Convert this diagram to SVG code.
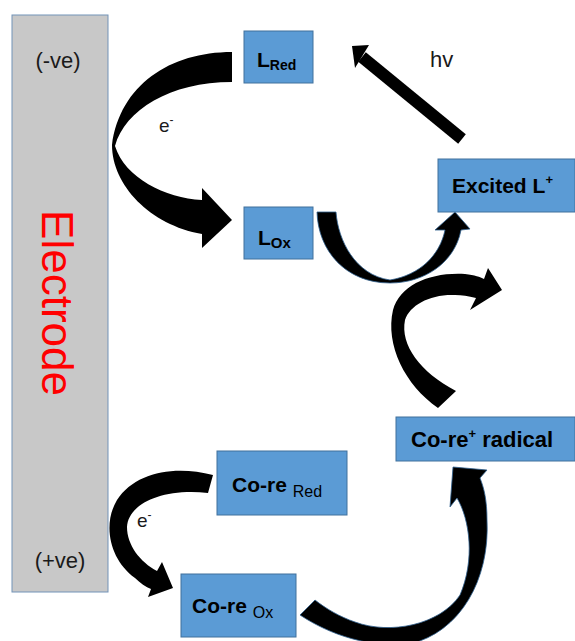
<svg xmlns="http://www.w3.org/2000/svg" width="575" height="641" viewBox="0 0 575 641">
<style>
.box{fill:#5b9bd5;stroke:#41719c;stroke-width:1}
.lbl{font-family:"Liberation Sans",Arial,sans-serif;font-weight:bold;fill:#000}
.sub{font-family:"Liberation Sans",Arial,sans-serif;fill:#000}
.plain{font-family:"Liberation Sans",Arial,sans-serif;fill:#1a1a1a}
.arr{fill:#000}
.arrb{fill:#000;stroke:#2e5f8e;stroke-width:0.8}
</style>
<rect width="575" height="641" fill="#fff"/>
<g id="electrode">
<rect x="12" y="15" width="96" height="577" fill="#c8c8c8" stroke="#7393b8" stroke-width="1"/>
<text class="plain" x="58" y="68" font-size="22" text-anchor="middle">(-ve)</text>
<text class="plain" x="60" y="568" font-size="22" text-anchor="middle">(+ve)</text>
<text transform="translate(42,303) rotate(90)" font-family="'Liberation Sans',Arial,sans-serif" font-size="44" fill="#ff0000" text-anchor="middle">Electrode</text>
</g>
<g id="connectors">
<path class="arr" d="M232,52 C170,52 120,85 112,145 C112,185 150,225 202,234 L202,248 L232,220 L202,188 L202,200 C165,198 125,178 115,146 C125,110 170,82 232,82 Z"/>
<path class="arrb" d="M317,212 L336,212 C338,240 355,275 390,280 C420,275 440,255 445,230 L435,230 L455,212 L470,229 L461,230 C455,262 425,283 390,283 C345,283 318,250 317,212 Z"/>
<path class="arr" d="M438,408 C405,385 385,345 393,310 C400,285 430,272 465,274 C475,275 480,277 484,279 L488,268 L502,290 L470,310 L476,298 C468,296 462,295 455,295 C430,294 410,305 405,320 C400,345 420,372 456,391 Z"/>
<path class="arr" d="M213,475 C175,465 135,472 117,500 C102,525 110,560 135,578 C140,583 146,587 151,589 L148,597 L173,588 L162,562 L157,571 C140,562 127,545 127,527 C128,505 160,488 208,493 Z"/>
<path class="arrb" d="M300,615 C330,635 370,648 410,644 C460,632 490,580 487,520 C487,500 484,488 480,478 L487,470 L453,467 L450,507 L457,498 C470,520 475,560 460,595 C440,625 390,635 355,622 C340,617 325,608 315,600 Z"/>
<line x1="462" y1="139" x2="362" y2="57" stroke="#000" stroke-width="12"/>
<polygon class="arr" points="352,46 369,45 355,68"/>
<text class="plain" x="159" y="132" font-size="19">e<tspan dy="-8" font-size="12">-</tspan></text>
<text class="plain" x="137" y="527" font-size="19">e<tspan dy="-8" font-size="12">-</tspan></text>
<text class="plain" x="430" y="67" font-size="22">hv</text>
</g>
<g id="l-red">
<rect class="box" x="244" y="31" width="69" height="52"/>
<text class="lbl" x="257" y="67" font-size="21">L<tspan font-size="14" dy="3">Red</tspan></text>
</g>
<g id="l-ox">
<rect class="box" x="244" y="207" width="69" height="52"/>
<text class="lbl" x="258" y="245" font-size="21">L<tspan font-size="15" dy="3">Ox</tspan></text>
</g>
<g id="excited-l">
<rect class="box" x="438" y="159" width="137" height="53"/>
<text class="lbl" x="452" y="193" font-size="21">Excited L<tspan font-size="13" dy="-9">+</tspan></text>
</g>
<g id="core-radical">
<rect class="box" x="396" y="417" width="179" height="44"/>
<text class="lbl" x="411" y="447" font-size="22">Co-re<tspan font-size="13" dy="-9">+</tspan><tspan dy="9"> radical</tspan></text>
</g>
<g id="core-red">
<rect class="box" x="217" y="451" width="130" height="64"/>
<text class="lbl" x="232" y="492" font-size="21">Co-re <tspan class="sub" font-weight="normal" font-size="16" dy="5">Red</tspan></text>
</g>
<g id="core-ox">
<rect class="box" x="181" y="574" width="115" height="63"/>
<text class="lbl" x="192" y="613" font-size="21">Co-re <tspan class="sub" font-weight="normal" font-size="16" dy="5">Ox</tspan></text>
</g>
</svg>
